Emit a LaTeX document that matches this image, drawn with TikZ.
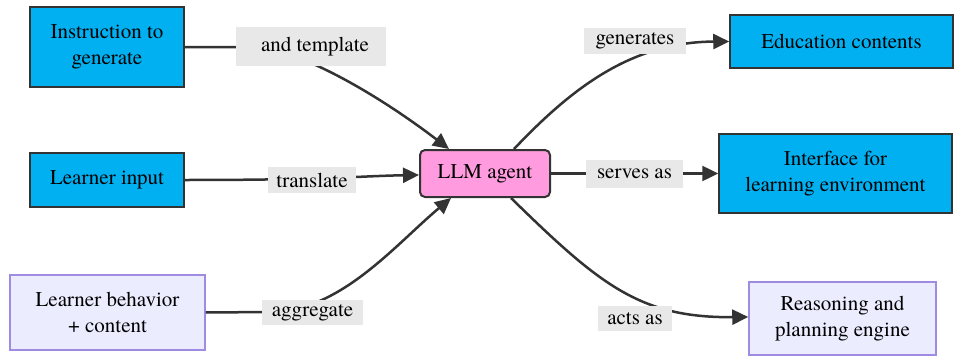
\documentclass[tikz,border=0pt]{standalone}
\usepackage{fontspec}
\setmainfont{TeX Gyre Termes}
\usetikzlibrary{arrows.meta}
\definecolor{cyanbox}{HTML}{00B0F0}
\definecolor{labgray}{HTML}{E8E8E8}
\definecolor{lavfill}{HTML}{ECECFF}
\definecolor{lavline}{HTML}{A08BE2}
\definecolor{pinkfill}{HTML}{FF9BDE}
\definecolor{edgecol}{HTML}{333333}
\tikzset{
  base/.style={align=center, inner sep=0pt, font=\rmfamily\fontsize{21}{26}\selectfont},
  cyanbox/.style={base, fill=cyanbox, draw=edgecol, line width=1.5pt},
  lavbox/.style={base, fill=lavfill, draw=lavline, line width=1.5pt},
  agentbox/.style={base, fill=pinkfill, draw=edgecol, line width=2pt, rounded corners=5pt},
  elabel/.style={base, fill=labgray},
  conn/.style={draw=edgecol, line width=2.5pt, -{Triangle[length=16pt,width=15pt]}},
}
\begin{document}
\begin{tikzpicture}[x=1pt,y=-1pt]
\useasboundingbox (0,0) rectangle (954,356);
% nodes
\node[cyanbox, minimum width=154pt, minimum height=80pt] (inst) at (107,47) {Instruction to\\generate};
\node[cyanbox, minimum width=154pt, minimum height=54pt] (li) at (107,180) {Learner input};
\node[lavbox, minimum width=195pt, minimum height=75pt] (beh) at (107.5,312.5) {Learner behavior\\+ content};
\node[agentbox, minimum width=130pt, minimum height=47pt] (llm) at (485,173.5) {LLM agent};
\node[cyanbox, minimum width=223pt, minimum height=53pt] (edu) at (841.5,41.5) {Education contents};
\node[cyanbox, minimum width=233pt, minimum height=79pt] (intf) at (835.5,173.5) {Interface for\\learning environment};
\node[lavbox, minimum width=187pt, minimum height=73pt] (reas) at (842.5,318.5) {Reasoning and\\planning engine};
% connector end points on the agent box
\coordinate (inA) at ([xshift=30pt]llm.north west);
\coordinate (inC) at ([xshift=32pt]llm.south west);
\coordinate (outA) at ([xshift=-37pt]llm.north east);
\coordinate (outC) at ([xshift=-40pt]llm.south east);
% connectors
\draw[conn] (inst.east) -- (250,47) .. controls (300,47) and (385,100) .. (inA);
\draw[conn] (li.east) .. controls (330,180) and (360,176) .. ([yshift=-1.5pt]llm.west);
\draw[conn] (beh.east) -- (270,312) .. controls (340,312) and (395,245) .. (inC);
\draw[conn] (outA) .. controls (570,90) and (630,42) .. (edu.west);
\draw[conn] (llm.east) -- (intf.west);
\draw[conn] (outC) .. controls (600,285) and (640,318) .. ([yshift=1.5pt]reas.west);
% labels
\node[elabel, minimum width=150pt, minimum height=39pt] (l1) at (311,46.5) {\hspace*{8pt}and template};
\node[elabel, minimum width=88pt, minimum height=26pt] (l2) at (312,180) {translate};
\node[elabel, minimum width=101pt, minimum height=25pt] (l3) at (312.5,312.5) {aggregate};
\node[elabel, minimum width=102pt, minimum height=26pt] (l4) at (635,41) {generates};
\node[elabel, minimum width=97pt, minimum height=28pt] (l5) at (634.5,174) {serves as};
\node[elabel, minimum width=74pt, minimum height=25pt] (l6) at (635,318.5) {acts as};
\end{tikzpicture}
\end{document}
